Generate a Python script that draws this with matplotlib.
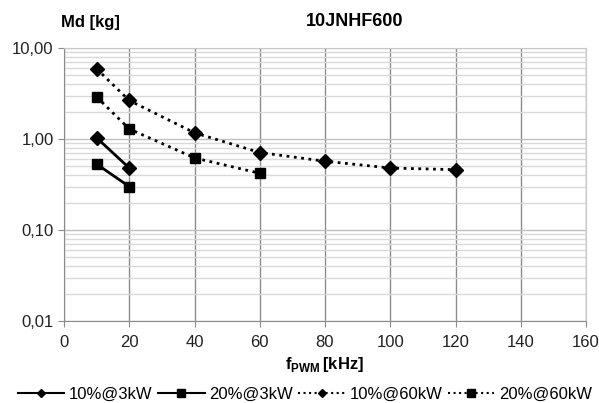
import matplotlib.pyplot as plt
from matplotlib.lines import Line2D
from matplotlib.ticker import FixedLocator, NullFormatter, LogLocator

plt.rcParams['font.family'] = ['Liberation Sans', 'DejaVu Sans']
plt.rcParams['mathtext.fontset'] = 'custom'
plt.rcParams['mathtext.bf'] = 'Liberation Sans:bold'
plt.rcParams['mathtext.rm'] = 'Liberation Sans'

# data
freq_3kw = [10, 20]
md_10_3kw = [1.03, 0.48]
md_20_3kw = [0.53, 0.30]

freq_60kw_10 = [10, 20, 40, 60, 80, 100, 120]
md_10_60kw = [5.9, 2.65, 1.17, 0.71, 0.57, 0.48, 0.46]

freq_60kw_20 = [10, 20, 40, 60]
md_20_60kw = [2.9, 1.29, 0.62, 0.42]

series_labels = ['10%@3kW', '20%@3kW', '10%@60kW', '20%@60kW']
y_ticks = [0.01, 0.1, 1, 10]
y_labels = ['0,01', '0,10', '1,00', '10,00']
x_ticks = [0, 20, 40, 60, 80, 100, 120, 140, 160]

fig = plt.figure(figsize=(5.99, 4.03), dpi=100)
ax = fig.add_axes([64 / 599, 1 - 321 / 403, (586 - 64) / 599, (321 - 48) / 403])

ax.plot(freq_3kw, md_10_3kw, '-', color='black', lw=2, marker='D', ms=7)
ax.plot(freq_3kw, md_20_3kw, '-', color='black', lw=2, marker='s', ms=7)
ax.plot(freq_60kw_10, md_10_60kw, ':', color='black', lw=2, marker='D', ms=7)
ax.plot(freq_60kw_20, md_20_60kw, ':', color='black', lw=2, marker='s', ms=7)

ax.set_yscale('log')
ax.set_ylim(0.01, 10)
ax.set_xlim(0, 160)
ax.yaxis.set_major_locator(FixedLocator(y_ticks))
ax.set_yticklabels(y_labels)
ax.yaxis.set_minor_locator(LogLocator(base=10, subs=range(2, 10)))
ax.yaxis.set_minor_formatter(NullFormatter())
ax.set_xticks(x_ticks)

ax.grid(True, which='major', axis='x', color='#8c8c8c', lw=1)
ax.grid(True, which='major', axis='y', color='#bfbfbf', lw=1)
ax.grid(True, which='minor', axis='y', color='#d9d9d9', lw=1)
ax.tick_params(axis='y', which='minor', length=0)
ax.tick_params(axis='both', which='major', direction='out', length=4, color='#8c8c8c',
               labelsize=12, labelcolor='#222222')
ax.tick_params(axis='x', pad=6)
for side in ['left', 'bottom']:
    ax.spines[side].set_color('#8c8c8c')
for side in ['top', 'right']:
    ax.spines[side].set_color('#c8c8c8')

fig.text(61 / 599, 1 - 22 / 403, 'Md [kg]', fontsize=12, fontweight='bold', va='center')
fig.text(355 / 599, 1 - 22 / 403, '10JNHF600', fontsize=13, fontweight='bold', ha='center', va='center')
fig.text(325 / 599, 1 - 369 / 403, r'$\mathbf{f}_{\mathbf{PWM}}\,\mathbf{[kHz]}$', fontsize=12,
         ha='center', va='baseline')

# legend proxies: thinner lines and smaller markers, as in the original
handles = [
    Line2D([], [], ls='-', color='black', lw=1.5, marker='D', ms=4.5),
    Line2D([], [], ls='-', color='black', lw=1.5, marker='s', ms=6),
    Line2D([], [], ls=':', color='black', lw=1.5, marker='D', ms=4.5),
    Line2D([], [], ls=':', color='black', lw=1.5, marker='s', ms=6),
]
fig.legend(handles, series_labels, loc='center', bbox_to_anchor=(305 / 599, 1 - 394 / 403), ncol=4,
           frameon=False, fontsize=12, handlelength=2.8, columnspacing=0.3, handletextpad=0.3,
           borderpad=0, borderaxespad=0)

fig.savefig('out.png', dpi=100)
